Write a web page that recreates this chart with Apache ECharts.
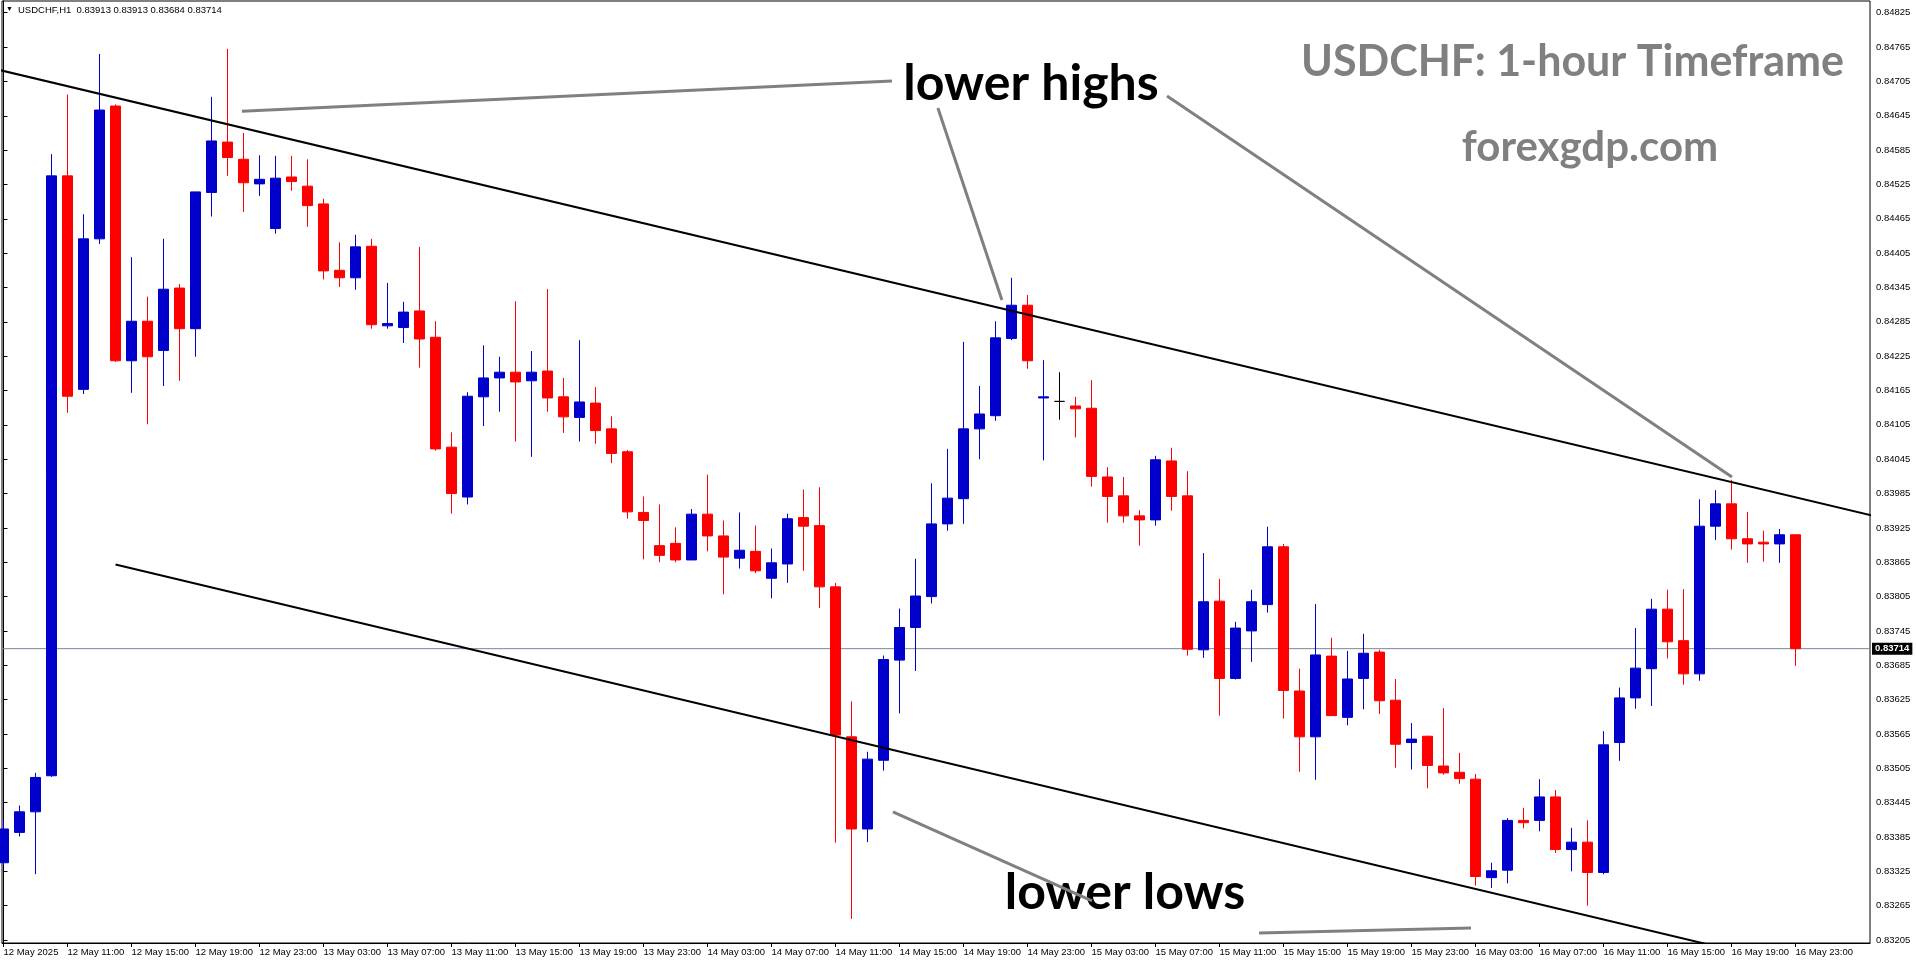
<!DOCTYPE html>
<html><head><meta charset="utf-8">
<script src="https://cdn.jsdelivr.net/npm/echarts@6/dist/echarts.min.js"></script>
<style>html,body{margin:0;padding:0;background:#fff;overflow:hidden}#c{width:1916px;height:964px}</style>
</head><body><div id="c"></div>
<script>
// ---- data (USDCHF H1, bar 0 = 12 May 2025 07:00) ----
const opens = [0.83340,0.83393,0.83429,0.83492,0.84540,0.84167,0.84430,0.84662,0.84217,0.84286,
0.84235,0.84344,0.84273,0.84511,0.84599,0.84569,0.84526,0.84448,0.84538,0.84522,
0.84491,0.84375,0.84362,0.84417,0.84278,0.84275,0.84304,0.84258,0.84066,0.83979,
0.84154,0.84187,0.84197,0.84182,0.84199,0.84154,0.84118,0.84143,0.84098,0.84058,
0.83952,0.83894,0.83898,0.83869,0.83949,0.83911,0.83872,0.83884,0.83837,0.83862,
0.83943,0.83929,0.83822,0.83560,0.83399,0.83519,0.83694,0.83751,0.83805,0.83932,
0.83976,0.84098,0.84121,0.84256,0.84314,0.84152,0.84146,0.84138,0.84134,0.84014,
0.83981,0.83946,0.83939,0.84042,0.83981,0.83712,0.83797,0.83662,0.83745,0.83791,
0.83892,0.83640,0.83560,0.83701,0.83594,0.83662,0.83708,0.83624,0.83550,0.83561,
0.83509,0.83498,0.83486,0.83314,0.83327,0.83414,0.83414,0.83455,0.83363,0.83376,
0.83323,0.83550,0.83628,0.83679,0.83783,0.83728,0.83670,0.83928,0.83967,0.83906,
0.83900,0.83897,0.83913];
const highs = [0.83414,0.83440,0.83497,0.84578,0.84682,0.84473,0.84753,0.84665,0.84398,0.84329,
0.84430,0.84351,0.84512,0.84678,0.84762,0.84615,0.84576,0.84575,0.84575,0.84569,
0.84500,0.84424,0.84437,0.84430,0.84353,0.84320,0.84416,0.84286,0.84092,0.84162,
0.84244,0.84224,0.84321,0.84234,0.84342,0.84187,0.84253,0.84171,0.84120,0.84061,
0.83980,0.83966,0.83926,0.83958,0.84018,0.83938,0.83952,0.83929,0.83889,0.83950,
0.83992,0.83996,0.83829,0.83622,0.83534,0.83702,0.83784,0.83871,0.84003,0.84063,
0.84250,0.84173,0.84286,0.84362,0.84332,0.84218,0.84197,0.84154,0.84183,0.84031,
0.84014,0.83956,0.84051,0.84065,0.84024,0.83881,0.83836,0.83761,0.83817,0.83927,
0.83897,0.83679,0.83792,0.83733,0.83710,0.83740,0.83712,0.83661,0.83584,0.83562,
0.83610,0.83532,0.83495,0.83340,0.83418,0.83436,0.83486,0.83467,0.83401,0.83414,
0.83570,0.83646,0.83750,0.83801,0.83817,0.83818,0.83975,0.83991,0.84009,0.83953,
0.83920,0.83923,0.83913];
const lows = [0.83335,0.83386,0.83320,0.83490,0.84126,0.84159,0.84421,0.84215,0.84161,0.84106,
0.84173,0.84182,0.84224,0.84469,0.84540,0.84477,0.84505,0.84439,0.84514,0.84451,
0.84359,0.84346,0.84341,0.84273,0.84273,0.84248,0.84205,0.84060,0.83950,0.83966,
0.84103,0.84128,0.84076,0.84049,0.84128,0.84091,0.84076,0.84072,0.84038,0.83941,
0.83870,0.83865,0.83865,0.83869,0.83884,0.83809,0.83854,0.83846,0.83802,0.83829,
0.83850,0.83785,0.83375,0.83242,0.83376,0.83501,0.83601,0.83675,0.83793,0.83920,
0.83932,0.84045,0.84112,0.84253,0.84203,0.84043,0.84114,0.84083,0.83997,0.83934,
0.83934,0.83894,0.83929,0.83955,0.83702,0.83698,0.83597,0.83660,0.83691,0.83777,
0.83592,0.83499,0.83485,0.83597,0.83580,0.83608,0.83600,0.83506,0.83503,0.83470,
0.83494,0.83478,0.83300,0.83296,0.83304,0.83400,0.83395,0.83357,0.83325,0.83265,
0.83320,0.83518,0.83609,0.83614,0.83697,0.83651,0.83658,0.83904,0.83887,0.83864,
0.83866,0.83864,0.83684];
const closes = [0.83399,0.83429,0.83489,0.84540,0.84155,0.84430,0.84655,0.84217,0.84286,0.84224,
0.84342,0.84273,0.84512,0.84601,0.84572,0.84528,0.84534,0.84536,0.84530,0.84488,
0.84374,0.84362,0.84416,0.84280,0.84282,0.84302,0.84255,0.84063,0.83985,0.84155,
0.84187,0.84197,0.84180,0.84197,0.84152,0.84119,0.84145,0.84095,0.84055,0.83953,
0.83938,0.83877,0.83869,0.83949,0.83911,0.83874,0.83886,0.83850,0.83864,0.83941,
0.83928,0.83822,0.83563,0.83399,0.83521,0.83695,0.83751,0.83806,0.83932,0.83977,
0.84098,0.84124,0.84257,0.84314,0.84217,0.84154,0.84146,0.84133,0.84015,0.83980,
0.83946,0.83939,0.84044,0.83980,0.83713,0.83796,0.83662,0.83750,0.83796,0.83892,
0.83641,0.83560,0.83703,0.83597,0.83661,0.83706,0.83623,0.83547,0.83556,0.83510,
0.83497,0.83487,0.83316,0.83326,0.83414,0.83410,0.83455,0.83363,0.83376,0.83323,
0.83546,0.83628,0.83680,0.83783,0.83726,0.83670,0.83928,0.83967,0.83906,0.83897,
0.83897,0.83913,0.83714];
const timeLabels = ["12 May 2025","12 May 11:00","12 May 15:00","12 May 19:00","12 May 23:00",
"13 May 03:00","13 May 07:00","13 May 11:00","13 May 15:00","13 May 19:00","13 May 23:00",
"14 May 03:00","14 May 07:00","14 May 11:00","14 May 15:00","14 May 19:00","14 May 23:00",
"15 May 03:00","15 May 07:00","15 May 11:00","15 May 15:00","15 May 19:00","15 May 23:00",
"16 May 03:00","16 May 07:00","16 May 11:00","16 May 15:00","16 May 19:00","16 May 23:00"];
const barsPerLabel = 4;
const priceTicks = [0.83205,0.83265,0.83325,0.83385,0.83445,0.83505,0.83565,0.83625,0.83685,0.83745,
0.83805,0.83865,0.83925,0.83985,0.84045,0.84105,0.84165,0.84225,0.84285,0.84345,
0.84405,0.84465,0.84525,0.84585,0.84645,0.84705,0.84765,0.84825];
const lastPrice = 0.83714;
const headerText = "USDCHF,H1  0.83913 0.83913 0.83684 0.83714";
// trend lines [bar, price]
const upperTrend = [[-1, 0.847299],[117, 0.839452]];
const lowerTrend = [[7, 0.838612],[107, 0.831942]];
const pointerLines = [
  [[14.9, 0.846528],[55.53, 0.847057]],
  [[58.4, 0.846585],[62.4, 0.843231]],
  [[72.72, 0.846795],[108.03, 0.840139]],
  [[55.59, 0.834287],[68.03, 0.832732]],
  [[78.47, 0.832173],[91.72, 0.832260]]
];

// ---- build ----
const FONT = 'Liberation Sans, Arial, sans-serif';
const X_MIN = -0.09375, X_MAX = 116.65625;
const candleData = opens.map((o, i) => {
  const item = { value: [i, o, closes[i], lows[i], highs[i]] };
  if (o === closes[i]) item.itemStyle = { color: '#000', color0: '#000', borderColor: '#000', borderColor0: '#000' };
  return item;
});
const labelBars = timeLabels.map((_, k) => k * barsPerLabel);

const series = [];
series.push({
  type: 'line', data: [[X_MIN, lastPrice], [X_MAX, lastPrice]], symbol: 'none', silent: true, z: 2,
  lineStyle: { color: '#778899', width: 1 },
  endLabel: { show: true, distance: 2, formatter: () => lastPrice.toFixed(5),
    backgroundColor: '#000', color: '#fff', fontFamily: FONT, fontSize: 9.5, fontWeight: 'bold', padding: [1, 3, 1, 3] }
});
series.push({
  type: 'candlestick',
  data: candleData,
  encode: { x: 0, y: [1, 2, 3, 4] },
  barWidth: 10,
  itemStyle: { color: '#0000CD', color0: '#FF0000', borderColor: '#0000CD', borderColor0: '#FF0000', borderWidth: 1 },
  z: 3
});
series.push({ type: 'line', data: upperTrend, symbol: 'none', silent: true, lineStyle: { color: '#000', width: 2 }, z: 4 });
series.push({ type: 'line', data: lowerTrend, symbol: 'none', silent: true, lineStyle: { color: '#000', width: 2 }, z: 4 });
pointerLines.forEach(p => series.push({ type: 'line', data: p, symbol: 'none', silent: true, lineStyle: { color: '#808080', width: 3 }, z: 5 }));

const chart = echarts.init(document.getElementById('c'), null, { renderer: 'canvas' });
chart.setOption({
  animation: false,
  backgroundColor: '#fff',
  grid: { left: 2, right: 46, top: 1, bottom: 21, show: true, borderColor: '#000', borderWidth: 1, containLabel: false },
  xAxis: {
    type: 'value', min: X_MIN, max: X_MAX,
    axisLine: { show: true, lineStyle: { color: '#000', width: 1 } },
    axisTick: { show: true, customValues: labelBars, length: 4, lineStyle: { color: '#000' } },
    axisLabel: { show: true, customValues: labelBars, formatter: v => timeLabels[Math.round(v / barsPerLabel)] || '',
      align: 'left', margin: 4, fontSize: 9.5, color: '#000', fontFamily: FONT },
    splitLine: { show: false }
  },
  yAxis: {
    type: 'value', position: 'right', min: 0.831998, max: 0.848455,
    axisLine: { show: true, lineStyle: { color: '#000', width: 1 } },
    axisTick: { show: true, customValues: priceTicks, length: 4, lineStyle: { color: '#000' } },
    axisLabel: { show: true, customValues: priceTicks, formatter: v => v.toFixed(5), margin: 6,
      fontSize: 9.5, color: '#000', fontFamily: FONT },
    splitLine: { show: false }
  },
  series: series,
  graphic: [
    { type: 'text', left: 6, top: 6, style: { text: '▼', fontSize: 7, fill: '#000', fontFamily: FONT } },
    { type: 'text', left: 18, top: 5, style: { text: headerText, fontSize: 9.5, fill: '#000', fontFamily: FONT } },
    { type: 'text', x: 1844, y: 62, style: { text: 'USDCHF: 1-hour Timeframe', align: 'right', verticalAlign: 'middle',
      fontSize: 43, fontWeight: 'bold', fill: '#808080', fontFamily: 'Lato, sans-serif' } },
    { type: 'text', x: 1590, y: 147, style: { text: 'forexgdp.com', align: 'center', verticalAlign: 'middle',
      fontSize: 42, fontWeight: 'bold', fill: '#808080', fontFamily: 'Lato, sans-serif' } },
    { type: 'text', x: 1031, y: 84, style: { text: 'lower highs', align: 'center', verticalAlign: 'middle',
      fontSize: 50, fontWeight: 'bold', fill: '#000', fontFamily: 'Lato, sans-serif' } },
    { type: 'text', x: 1125, y: 893, style: { text: 'lower lows', align: 'center', verticalAlign: 'middle',
      fontSize: 50, fontWeight: 'bold', fill: '#000', fontFamily: 'Lato, sans-serif' } }
  ]
});
</script>
</body></html>
